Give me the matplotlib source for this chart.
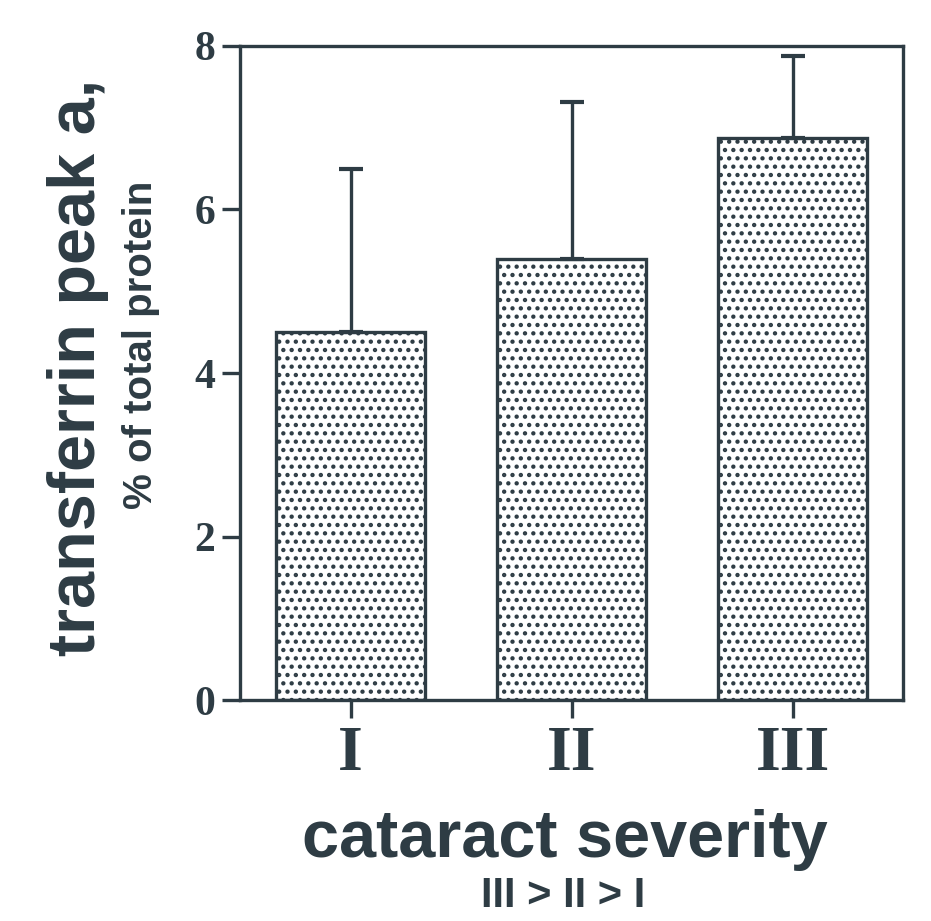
import matplotlib
matplotlib.use("Agg")
import matplotlib.pyplot as plt
import numpy as np

categories = ["I", "II", "III"]
means = [4.5, 5.4, 6.87]
sd_upper = [2.0, 1.91, 1.01]
yticks = [0, 2, 4, 6, 8]

ink = "#2e3c44"
plt.rcParams["hatch.color"] = ink
plt.rcParams["hatch.linewidth"] = 1.9

fig = plt.figure(figsize=(9.31, 9.21), dpi=100)
ax = fig.add_axes([240/931, 1-700/921, (903-240)/931, (700-46)/921])

x = np.arange(len(categories))
ax.bar(x, means, width=0.67, color="white", edgecolor=ink, linewidth=2.4,
       hatch="..", zorder=2)
ax.errorbar(x, means, yerr=[np.zeros(len(means)), sd_upper], fmt="none",
            ecolor=ink, elinewidth=2.4, capsize=8.5, capthick=3.0, zorder=3)

ax.set_xlim(-0.5, 2.5)
ax.set_ylim(0, 8)
ax.set_yticks(yticks)
ax.set_yticklabels([str(v) for v in yticks], fontsize=30, fontweight="bold",
                   family="Liberation Serif", color=ink)
ax.set_xticks(x)
ax.set_xticklabels(categories, fontsize=46, fontweight="bold",
                   family="Liberation Serif", color=ink)
for s in ax.spines.values():
    s.set_color(ink)
    s.set_linewidth(2.4)
ax.tick_params(axis="both", direction="out", length=13, width=2.4, color=ink)
ax.tick_params(axis="y", pad=5)
ax.tick_params(axis="x", pad=6)

fig.text(78/931, 1-367/921, "transferrin peak a,", rotation=90, ha="center", va="center",
         fontsize=48, fontweight="bold", family="Liberation Sans", color=ink)
fig.text(141/931, 1-345/921, "% of total protein", rotation=90, ha="center", va="center",
         fontsize=29, fontweight="bold", family="Liberation Sans", color=ink)
fig.text(565/931, 1-857/921, "cataract severity", ha="center", va="baseline",
         fontsize=48, fontweight="bold", family="Liberation Sans", color=ink)
fig.text(563/931, 1-907/921, "III > II > I", ha="center", va="baseline",
         fontsize=30, fontweight="bold", family="Liberation Sans", color=ink)

fig.savefig("out.png", dpi=100, facecolor="white")
